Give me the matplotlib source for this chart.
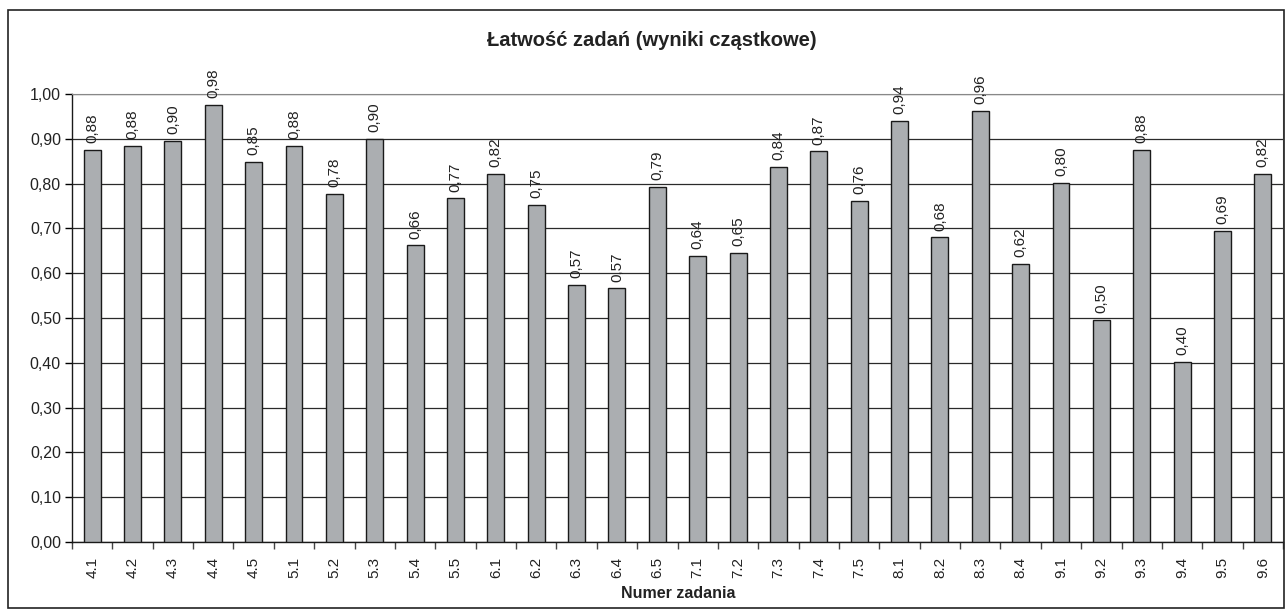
import matplotlib
matplotlib.use('Agg')
import matplotlib.pyplot as plt
import numpy as np

plt.rcParams['font.family'] = ['Liberation Sans', 'DejaVu Sans']

zadania = ['4.1', '4.2', '4.3', '4.4', '4.5',
           '5.1', '5.2', '5.3', '5.4', '5.5',
           '6.1', '6.2', '6.3', '6.4', '6.5',
           '7.1', '7.2', '7.3', '7.4', '7.5',
           '8.1', '8.2', '8.3', '8.4',
           '9.1', '9.2', '9.3', '9.4', '9.5', '9.6']
latwosc = [0.876, 0.884, 0.896, 0.976, 0.849,
           0.884, 0.777, 0.900, 0.662, 0.767,
           0.822, 0.753, 0.574, 0.566, 0.793,
           0.639, 0.646, 0.838, 0.872, 0.761,
           0.940, 0.680, 0.962, 0.621,
           0.802, 0.496, 0.876, 0.402, 0.694, 0.822]
yticks = [0.0, 0.1, 0.2, 0.3, 0.4, 0.5, 0.6, 0.7, 0.8, 0.9, 1.0]

W, H = 1286, 616
fig = plt.figure(figsize=(W / 100, H / 100), dpi=100)

# outer frame
frame = plt.Rectangle((8 / W, 1 - 608 / H), (1284 - 8) / W, (608 - 10) / H,
                      transform=fig.transFigure, fill=False, ec='#222222', lw=1.2)
fig.patches.append(frame)

left, right, top, bottom = 72, 1283, 94, 542
ax = fig.add_axes([left / W, 1 - bottom / H, (right - left) / W, (bottom - top) / H])

x = np.arange(len(zadania))
ax.bar(x, latwosc, width=0.42, color='#abaeb1', edgecolor='#1a1a1a', linewidth=1.0, zorder=3)

for xi, v in zip(x, latwosc):
    ax.text(xi, v + 0.015, f'{v:.2f}'.replace('.', ','), rotation=90,
            ha='center', va='bottom', fontsize=11, color='#222222')

ax.set_xlim(-0.5, len(zadania) - 0.5)
ax.set_ylim(0, 1.0)
ax.set_yticks(yticks)
ax.set_yticklabels([f'{t:.2f}'.replace('.', ',') for t in yticks], fontsize=11.5, color='#222222')
ax.yaxis.grid(True, color='#2a2a2a', lw=0.9, zorder=0)

ax.set_xticks(x)
ax.set_xticklabels(zadania, rotation=90, fontsize=11, color='#222222')
ax.set_xticks(np.arange(-0.5, len(zadania)), minor=True)
ax.tick_params(axis='x', which='major', length=0, pad=11)
ax.tick_params(axis='x', which='minor', length=5, width=1, direction='out', color='#444444')
ax.tick_params(axis='y', length=5, width=1, direction='out', pad=3)

for s in ['top', 'right']:
    ax.spines[s].set_color('#888888')
for s in ['left', 'bottom']:
    ax.spines[s].set_color('#1a1a1a')
    ax.spines[s].set_linewidth(1.0)

fig.text(652 / W, 1 - 40 / H, 'Łatwość zadań (wyniki cząstkowe)', ha='center', va='center',
         fontsize=14.5, fontweight='bold', color='#222222')
fig.text(678 / W, 1 - 594 / H, 'Numer zadania', ha='center', va='center',
         fontsize=11.5, fontweight='bold', color='#222222')

fig.savefig('out.png', dpi=100)
